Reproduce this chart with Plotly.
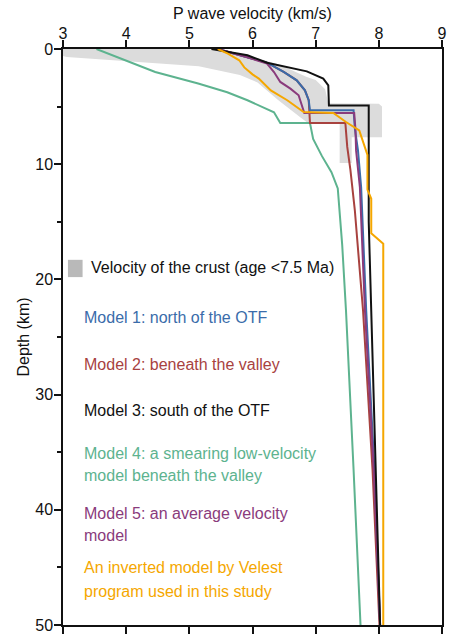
import plotly.graph_objects as go

# ---------------- data ----------------
crust_v = [3.0, 5.3, 5.9, 6.45, 6.85, 7.0, 7.15, 7.2, 8.0, 8.05, 8.05, 7.57, 7.57, 7.38, 7.38,
           6.9, 6.75, 6.4, 6.08, 5.8, 5.15, 4.5, 3.06, 3.0]
crust_d = [0.0, 0.0, 0.5, 1.4, 2.4, 2.7, 3.5, 4.7, 4.75, 5.0, 7.65, 7.65, 9.9, 9.9, 6.5,
           6.5, 5.9, 4.4, 2.9, 2.25, 1.5, 1.25, 0.69, 0.6]

m1_v = [5.45, 5.92, 6.23, 6.5, 6.7, 6.83, 6.89, 6.91, 7.60, 7.62, 7.67, 7.72, 7.8, 7.93, 8.02]
m1_d = [0.0, 0.7, 1.19, 2.0, 2.72, 3.59, 4.45, 5.32, 5.32, 6.9, 8.8, 12.0, 22.7, 36.5, 50.0]

m2_v = [5.45, 5.92, 6.23, 6.5, 6.7, 6.83, 6.89, 6.91, 7.47, 7.5, 7.55, 7.62, 7.75, 7.9, 8.01]
m2_d = [0.0, 0.7, 1.19, 2.0, 2.72, 3.59, 4.45, 6.42, 6.42, 8.5, 10.5, 14.0, 22.7, 36.5, 50.0]

m3_v = [5.35, 5.92, 6.23, 6.86, 7.12, 7.2, 7.21, 7.84, 7.84, 7.88, 7.95, 8.02]
m3_d = [0.0, 0.55, 1.19, 1.94, 2.57, 3.15, 4.9, 4.9, 15.0, 22.7, 36.0, 50.0]

m4_v = [3.53, 4.46, 5.14, 5.6, 5.92, 6.15, 6.34, 6.44, 6.91, 6.96, 7.1, 7.25, 7.35, 7.42, 7.48, 7.6, 7.71]
m4_d = [0.0, 2.0, 3.0, 3.75, 4.45, 5.0, 5.5, 6.42, 6.42, 7.8, 9.3, 10.7, 12.1, 17.0, 22.7, 36.5, 50.0]

m5_v = [5.45, 5.92, 6.23, 6.34, 6.44, 6.6, 6.73, 6.78, 6.82, 7.61, 7.63, 7.64, 7.7, 7.78, 7.92, 8.02]
m5_d = [0.0, 0.72, 1.27, 2.0, 2.86, 3.44, 4.02, 4.89, 5.56, 5.56, 7.0, 8.8, 12.0, 22.7, 36.5, 50.0]

vel_v = [5.45, 5.61, 5.79, 5.87, 6.0, 6.1, 6.29, 6.55, 6.81, 7.28, 7.48, 7.69, 7.82, 7.82, 7.88, 7.88, 8.07, 8.07]
vel_d = [0.0, 0.4, 0.98, 1.6, 2.2, 2.57, 3.59, 4.45, 5.47, 5.56, 6.34, 7.06, 9.2, 12.2, 13.0, 16.0, 16.9, 50.0]

x_ticks = [3, 4, 5, 6, 7, 8, 9]
y_ticks = [0, 10, 20, 30, 40, 50]

legend_crust = "Velocity of the crust (age <7.5 Ma)"
legend_lines = [
    ("Model 1: north of the OTF", "#3a6caa"),
    ("Model 2: beneath the valley", "#a8423f"),
    ("Model 3: south of the OTF", "#111111"),
    ("Model 4: a smearing low-velocity", "#5db38f"),
    ("model beneath the valley", "#5db38f"),
    ("Model 5: an average velocity", "#8a3b7c"),
    ("model", "#8a3b7c"),
    ("An inverted model by Velest", "#f5a700"),
    ("program used in this study", "#f5a700"),
]
legend_y = [23.3, 27.35, 31.35, 35.07, 36.98, 40.36, 42.27, 45.05, 47.05]

FONT = "Liberation Sans, Arial, Helvetica, sans-serif"

fig = go.Figure()
fig.add_trace(go.Scatter(x=crust_v, y=crust_d, mode="lines", fill="toself",
                         fillcolor="#dcdcdc", line=dict(width=0, color="#dcdcdc"),
                         hoverinfo="skip", showlegend=False))

series = [
    (m4_v, m4_d, "#5db38f"),
    (m2_v, m2_d, "#a8423f"),
    (m1_v, m1_d, "#3a6caa"),
    (m5_v, m5_d, "#8a3b7c"),
    (m3_v, m3_d, "#111111"),
    (vel_v, vel_d, "#f5a700"),
]
for xv, yv, c in series:
    fig.add_trace(go.Scatter(x=xv, y=yv, mode="lines", line=dict(color=c, width=2),
                             showlegend=False))

# legend-like labels
fig.add_shape(type="rect", xref="x", yref="y", x0=3.078, x1=3.31, y0=18.3, y1=19.8,
              fillcolor="#b9b9b9", line=dict(width=0))
fig.add_annotation(x=3.406, y=19.0, xref="x", yref="y", text=legend_crust, showarrow=False,
                   xanchor="left", yanchor="middle", font=dict(size=16, color="#111111", family=FONT))
for (txt, col), yy in zip(legend_lines, legend_y):
    fig.add_annotation(x=3.297, y=yy, xref="x", yref="y", text=txt, showarrow=False,
                       xanchor="left", yanchor="middle", font=dict(size=16, color=col, family=FONT))

fig.add_annotation(x=0.5, y=1.0608, xref="paper", yref="paper", text="P wave velocity (km/s)",
                   showarrow=False, xanchor="center", yanchor="middle",
                   font=dict(size=16, color="#111111", family=FONT))
fig.add_annotation(x=(22 - 63) / 384, y=0.5, xref="paper", yref="paper", text="Depth (km)",
                   showarrow=False, textangle=-90, xanchor="center", yanchor="middle",
                   font=dict(size=16, color="#111111", family=FONT))

fig.update_layout(
    width=450, height=637,
    margin=dict(l=63, r=3, t=49, b=12),
    paper_bgcolor="white", plot_bgcolor="white",
    font=dict(family=FONT, size=16, color="#111111"),
    showlegend=False,
    xaxis=dict(side="top", range=[3, 9], tickvals=x_ticks, ticks="outside", ticklen=7,
               tickwidth=1.5, tickcolor="#111111", showline=True, linecolor="#111111",
               linewidth=1.5, mirror="ticks", showgrid=False, zeroline=False,
               ticklabelstandoff=-5,
               tickfont=dict(size=16, family=FONT, color="#111111")),
    yaxis=dict(range=[50, 0], tickvals=y_ticks, ticks="outside", ticklen=7, tickwidth=1.5,
               tickcolor="#111111", showline=True, linecolor="#111111", linewidth=1.5,
               mirror=True, showgrid=False, zeroline=False, ticklabelstandoff=-2,
               minor=dict(dtick=5, ticks="outside", ticklen=4, tickwidth=1.5, tickcolor="#111111",
                          showgrid=False),
               tickfont=dict(size=16, family=FONT, color="#111111")),
)

fig.write_html("out.html")
